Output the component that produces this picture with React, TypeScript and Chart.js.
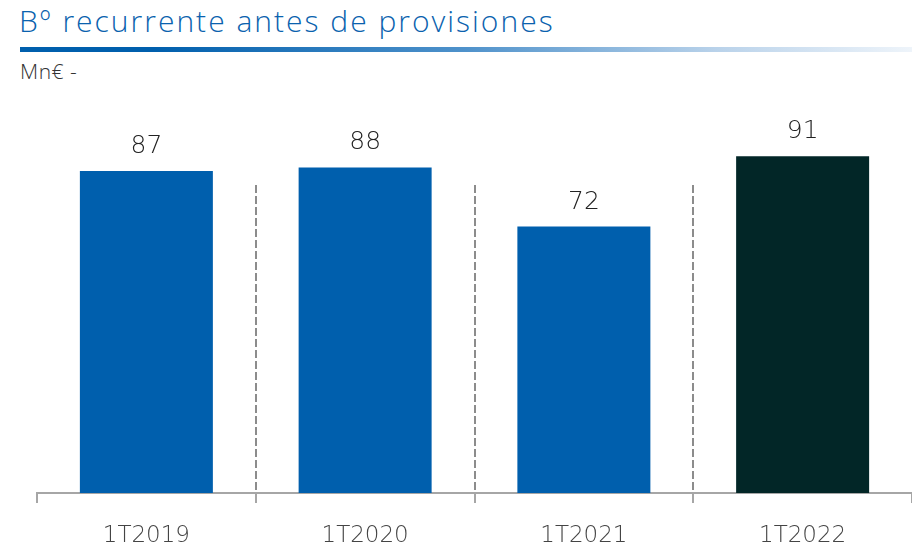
import React, { useEffect, useRef } from "react";
import { Chart, registerables } from "chart.js";

Chart.register(...registerables);

const categories = ["1T2019", "1T2020", "1T2021", "1T2022"];
const values = [87, 88, 72, 91];
const barColors = ["#005fad", "#005fad", "#005fad", "#022627"];
const title = "Bº recurrente antes de provisiones";
const unitLabel = "Mn€ -";

const FONT = "'Open Sans', 'Liberation Sans', sans-serif";
const NUMFONT = "'DejaVu Sans', sans-serif";

const overlayPlugin = {
  id: "overlay",
  afterDatasetsDraw(chart: any) {
    const { ctx, chartArea, scales } = chart;
    const xs = scales.x;
    ctx.save();
    // dashed separators
    ctx.strokeStyle = "#8c8c8c";
    ctx.lineWidth = 2;
    ctx.setLineDash([8, 3]);
    for (let i = 1; i < categories.length; i++) {
      const x = Math.round((xs.getPixelForValue(i - 1) + xs.getPixelForValue(i)) / 2);
      ctx.beginPath();
      ctx.moveTo(x, chartArea.top + 62);
      ctx.lineTo(x, chartArea.bottom);
      ctx.stroke();
    }
    ctx.setLineDash([]);
    // value labels
    const meta = chart.getDatasetMeta(0);
    ctx.fillStyle = "#222";
    ctx.font = `200 25px ${NUMFONT}`;
    ctx.textAlign = "center";
    ctx.textBaseline = "alphabetic";
    meta.data.forEach((bar: any, i: number) => {
      ctx.fillText(String(values[i]), bar.x, bar.y - 18);
    });
    ctx.restore();
  },
};

export default function App() {
  const ref = useRef<HTMLCanvasElement | null>(null);
  useEffect(() => {
    if (!ref.current) return;
    const chart = new Chart(ref.current, {
      type: "bar",
      data: {
        labels: categories,
        datasets: [
          {
            data: values,
            backgroundColor: barColors,
            borderWidth: 0,
            categoryPercentage: 1,
            barPercentage: 0.608,
          },
        ],
      },
      options: {
        animation: false,
        responsive: false,
        maintainAspectRatio: false,
        layout: { padding: { left: 37, right: 0, top: 33, bottom: 0 } },
        plugins: { legend: { display: false }, tooltip: { enabled: false }, title: { display: false } },
        scales: {
          y: { display: false, min: 0, max: 100 },
          x: {
            afterFit: (s: any) => {
              s.height = 54;
            },
            border: { display: true, color: "#a6a6a6", width: 2 },
            grid: {
              display: true,
              drawOnChartArea: false,
              drawTicks: true,
              tickLength: 10,
              color: "#a6a6a6",
              lineWidth: 2,
              offset: true,
            },
            ticks: {
              color: "#444",
              font: { family: NUMFONT, size: 23, weight: "200" as any },
              padding: 19,
            },
          },
        },
      },
      plugins: [overlayPlugin],
    });
    return () => chart.destroy();
  }, []);

  return (
    <div style={{ position: "absolute", left: 0, top: 0, width: 912, height: 547, overflow: "hidden", background: "#fff" }}>
      <div
        style={{
          position: "absolute",
          left: 19,
          top: 1,
          fontFamily: FONT,
          fontWeight: 300,
          fontSize: 30,
          letterSpacing: "2px",
          color: "#0a62ae",
          whiteSpace: "nowrap",
          lineHeight: "40px",
        }}
      >
        {title}
      </div>
      <div
        style={{
          position: "absolute",
          left: 20,
          top: 47,
          width: 892,
          height: 5,
          background: "linear-gradient(to right, #005fad 0%, #005fad 15%, #4f92cb 50%, #b9d2ea 78%, #eef4fa 100%)",
        }}
      />
      <div
        style={{
          position: "absolute",
          left: 20,
          top: 57,
          fontFamily: FONT,
          fontWeight: 300,
          fontSize: 21,
          letterSpacing: "0.5px",
          color: "#333",
          whiteSpace: "nowrap",
          lineHeight: "28px",
        }}
      >
        {unitLabel}
      </div>
      <canvas ref={ref} width={912} height={457} style={{ position: "absolute", left: 0, top: 90, width: 912, height: 457 }} />
    </div>
  );
}
